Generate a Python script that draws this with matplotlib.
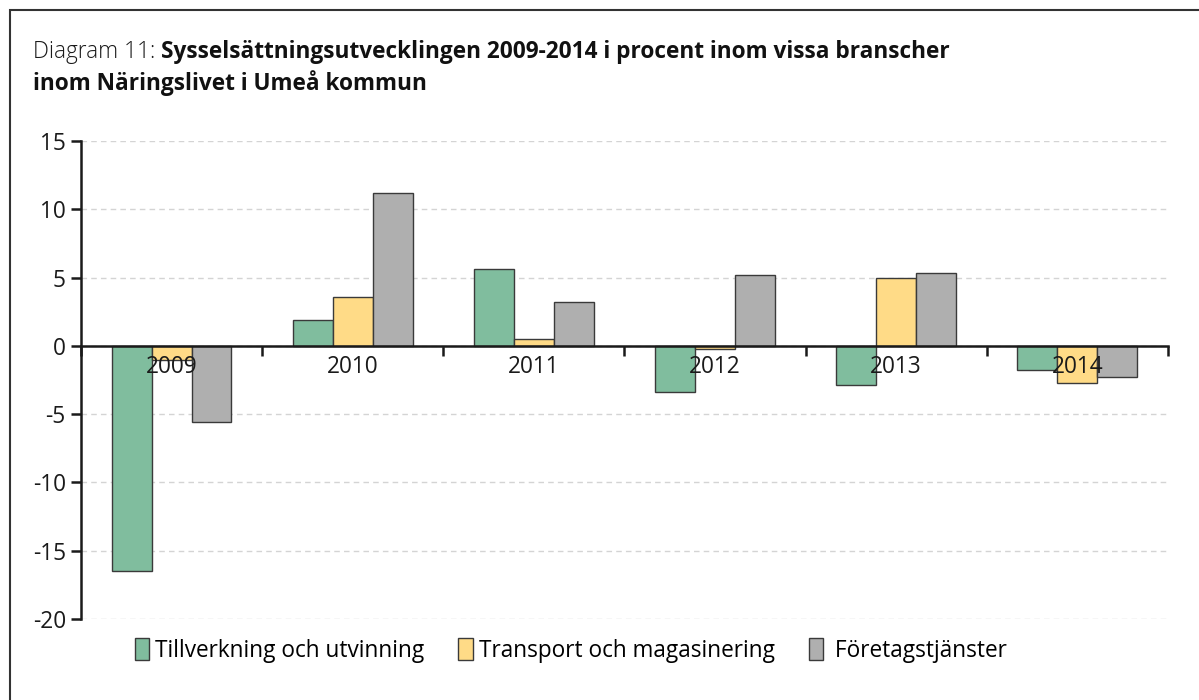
import matplotlib
matplotlib.use('Agg')
import matplotlib.pyplot as plt
from matplotlib.patches import Rectangle, Patch
import numpy as np

# data
years = ['2009', '2010', '2011', '2012', '2013', '2014']
tillverkning = [-16.5, 1.9, 5.6, -3.4, -2.9, -1.75]
transport = [-1.0, 3.6, 0.5, -0.2, 5.0, -2.7]
foretag = [-5.6, 11.2, 3.2, 5.2, 5.35, -2.3]
series_names = ['Tillverkning och utvinning', 'Transport och magasinering', ' Företagstjänster']
yticks = [15, 10, 5, 0, -5, -10, -15, -20]

cols = ['#80BD9E', '#FFDB87', '#AFAFAF']
edge = '#3a3a3a'
fs = 16.3

plt.rcParams['font.family'] = ['Open Sans', 'DejaVu Sans']
plt.rcParams['font.size'] = fs

fig = plt.figure(figsize=(11.99, 7.0), dpi=100)
ax = fig.add_axes([0.0676, 0.1157, 0.9064, 0.6829])

x = np.arange(len(years))
w = 0.22
for ii, vals in enumerate([tillverkning, transport, foretag]):
    ax.bar(x + (ii - 1) * w, vals, w, color=cols[ii], edgecolor=edge, linewidth=1, zorder=2)

ax.set_xlim(-0.5, len(years) - 0.5)
ax.set_ylim(-20, 15)
ax.set_yticks(yticks)
ax.set_yticklabels([str(v) for v in yticks])
ax.yaxis.grid(True, linestyle=(0, (4, 3)), color='#d4d4d4', linewidth=1)
ax.set_axisbelow(True)

for s in ['top', 'right']:
    ax.spines[s].set_visible(False)
ax.spines['left'].set_linewidth(1.8)
ax.spines['left'].set_color('#1a1a1a')
ax.spines['bottom'].set_position(('data', 0))
ax.spines['bottom'].set_linewidth(1.8)
ax.spines['bottom'].set_color('#1a1a1a')
ax.spines['bottom'].set_zorder(3)

ax.set_xticks(np.arange(-0.5, len(years), 1.0))
ax.set_xticklabels([])
ax.tick_params(axis='x', which='major', direction='out', length=7, width=1.8, color='#1a1a1a')
ax.tick_params(axis='y', direction='out', length=7, width=1.8, color='#1a1a1a', labelsize=fs, labelcolor='#1a1a1a', pad=4)

# year labels sit just under the zero line, drawn on top of the bars
for xi, yr in zip(x, years):
    ax.annotate(yr, xy=(xi, 0), xytext=(0, -15.5), textcoords='offset points',
                ha='center', va='center', fontsize=fs, color='#1a1a1a', zorder=6)

handles = [Patch(facecolor=c, edgecolor=edge, linewidth=1) for c in cols]
fig.legend(handles, series_names, loc='center', bbox_to_anchor=(0.476, 0.071), ncol=3,
           frameon=False, fontsize=fs, handlelength=0.65, handleheight=1.1,
           handletextpad=0.25, columnspacing=1.5)

t1 = fig.text(0.0275, 0.917, 'Diagram 11: ', fontsize=fs, fontweight='light', va='baseline', color='#1a1a1a')
fig.text(0.0275, 0.871, 'inom Näringslivet i Umeå kommun', fontsize=fs, fontweight='bold', va='baseline', color='#111111')
fig.canvas.draw()
bb = t1.get_window_extent()
fig.text(bb.x1 / fig.bbox.width, 0.917, 'Sysselsättningsutvecklingen 2009-2014 i procent inom vissa branscher',
         fontsize=fs, fontweight='bold', va='baseline', color='#111111')

fig.patches.append(Rectangle((0.0085, -0.1), 1.2, 0.9857 + 0.1, transform=fig.transFigure,
                             fill=False, edgecolor='#333333', linewidth=1.5))

fig.savefig('out.png', dpi=100)
